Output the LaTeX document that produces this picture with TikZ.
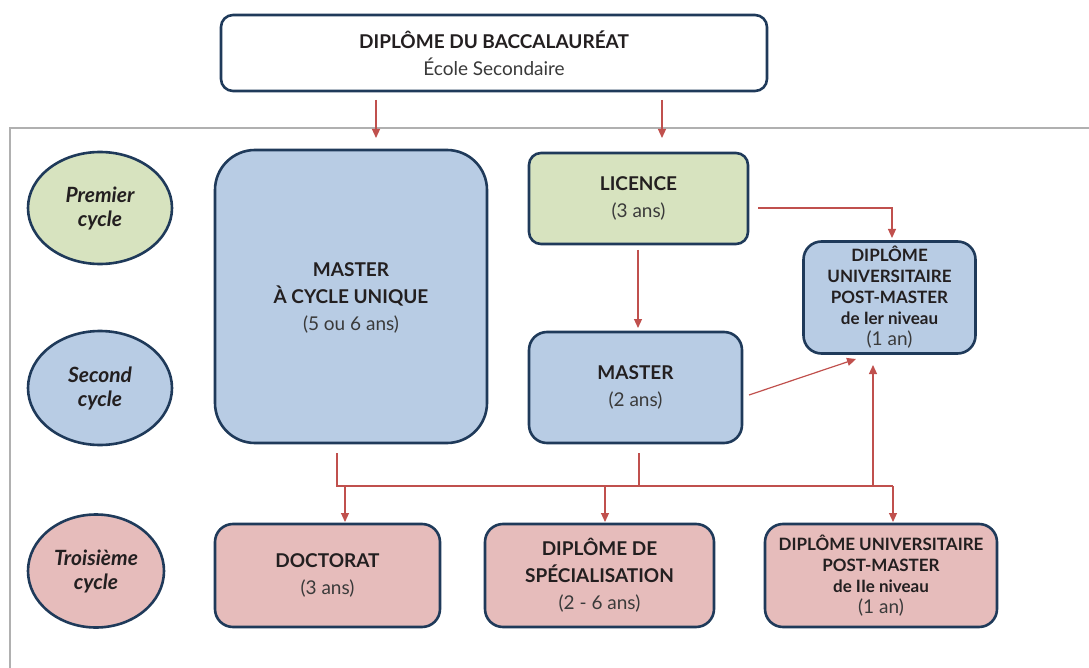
\documentclass[tikz,border=0pt]{standalone}
\usepackage{fontspec}
\setmainfont{Lato}
\usetikzlibrary{arrows.meta,shapes.geometric}
\definecolor{navy}{HTML}{1F3A5A}
\definecolor{fillblue}{HTML}{B8CCE4}
\definecolor{fillgreen}{HTML}{D7E3BF}
\definecolor{fillpink}{HTML}{E6BCBB}
\definecolor{arrred}{HTML}{C0504D}
\definecolor{framegray}{HTML}{B0B0B0}
\definecolor{txt}{HTML}{231F20}
\definecolor{subtxt}{HTML}{3A3A3A}
\newcommand{\subf}{\fontsize{19}{21}\selectfont\color{subtxt}}
\begin{document}
\begin{tikzpicture}[x=1pt,y=-1pt,
  box/.style={draw=navy,line width=2.6pt,inner sep=0pt,align=center,text=txt},
  cyc/.style={ellipse,draw=navy,line width=2.6pt,inner sep=0pt,align=center,text=txt,
    font=\fontsize{21}{24}\selectfont\bfseries\itshape},
  big/.style={font=\fontsize{19}{27}\selectfont},
  small/.style={font=\fontsize{17}{21}\selectfont},
  down/.style={label={[align=center,text=txt,#1]center:}},
  arr/.style={draw=arrred,line width=1.2pt,-{Triangle[length=9pt,width=8pt]}},
  lin/.style={draw=arrred,line width=1.2pt}
]
\useasboundingbox (0,0) rectangle (1089,668);
% frame
\draw[framegray,line width=1.5pt] (10,668) -- (10,128) -- (1089,128);

% top box
\node[box,big,fill=white,rounded corners=12pt,minimum width=546pt,minimum height=76pt] (bac) at (494,53)
  {\textbf{DIPLÔME DU BACCALAURÉAT}\\{\subf École Secondaire}};

% ellipses
\node[cyc,fill=fillgreen,minimum width=144pt,minimum height=112pt] (e1) at (100,208) {Premier\\cycle};
\node[cyc,fill=fillblue,minimum width=144pt,minimum height=114pt] (e2) at (100,388) {Second\\cycle};
\node[cyc,fill=fillpink,minimum width=136pt,minimum height=113pt] (e3) at (96,571) {Troisième\\cycle};

% main boxes
\node[box,big,fill=fillblue,rounded corners=40pt,minimum width=272pt,minimum height=293pt,text depth=-4pt] (mcu) at (351,296.5)
  {\textbf{MASTER}\\\textbf{À CYCLE UNIQUE}\\{\subf (5 ou 6 ans)}};
\node[box,big,fill=fillgreen,rounded corners=12pt,minimum width=219pt,minimum height=91pt] (lic) at (638.5,198.5)
  {\textbf{LICENCE}\\{\subf (3 ans)}};
\node[box,big,fill=fillblue,rounded corners=18pt,minimum width=213pt,minimum height=111pt] (mas) at (635.5,387.5)
  {\textbf{MASTER}\\{\subf (2 ans)}};
\node[box,small,fill=fillblue,rounded corners=18pt,minimum width=172pt,minimum height=112pt] (du1) at (889.5,297.5)
  {\textbf{DIPLÔME}\\\textbf{UNIVERSITAIRE}\\\textbf{POST-MASTER}\\\textbf{de Ier niveau}\\{\subf (1 an)}};
\node[box,big,fill=fillpink,rounded corners=18pt,minimum width=225pt,minimum height=103pt] (doc) at (327.5,575.5)
  {\textbf{DOCTORAT}\\{\subf (3 ans)}};
\node[box,big,fill=fillpink,rounded corners=18pt,minimum width=229pt,minimum height=103pt] (spe) at (599.5,575.5)
  {\textbf{DIPLÔME DE}\\\textbf{SPÉCIALISATION}\\{\subf (2 - 6 ans)}};
\node[box,small,fill=fillpink,rounded corners=18pt,minimum width=232pt,minimum height=103pt] (du2) at (881,575.5)
  {\textbf{DIPLÔME UNIVERSITAIRE}\\\textbf{POST-MASTER}\\\textbf{de IIe niveau}\\{\subf (1 an)}};

% connector coordinates
\coordinate (b1) at (376,100); \coordinate (m1) at (376,138);
\coordinate (b2) at (662,100); \coordinate (l1) at (662,138);
\coordinate (ls) at (638,250); \coordinate (mt) at (638,328);
\coordinate (lr) at (758,208); \coordinate (dt) at (892,238);
\coordinate (mr) at (749,395); \coordinate (dbl) at (856,359);
\coordinate (mcb) at (337,453); \coordinate (bl) at (337,486); \coordinate (br) at (893,486);
\coordinate (mab) at (639,453); \coordinate (mbus) at (639,486);
\coordinate (dbus) at (345,486); \coordinate (dtop) at (345,522);
\coordinate (sbus) at (605,486); \coordinate (stop) at (605,522);
\coordinate (d2top) at (893,522);
\coordinate (ubus) at (873,486); \coordinate (ub) at (873,365);

\draw[arr] (b1) -- (m1);
\draw[arr] (b2) -- (l1);
\draw[arr] (ls) -- (mt);
\draw[arr] (lr) -| (dt);
\draw[arr] (mr) -- (dbl);
\draw[lin] (mcb) -- (bl) -- (br);
\draw[lin] (mab) -- (mbus);
\draw[arr] (dbus) -- (dtop);
\draw[arr] (sbus) -- (stop);
\draw[arr] (br) -- (d2top);
\draw[arr] (ubus) -- (ub);
\end{tikzpicture}
\end{document}
